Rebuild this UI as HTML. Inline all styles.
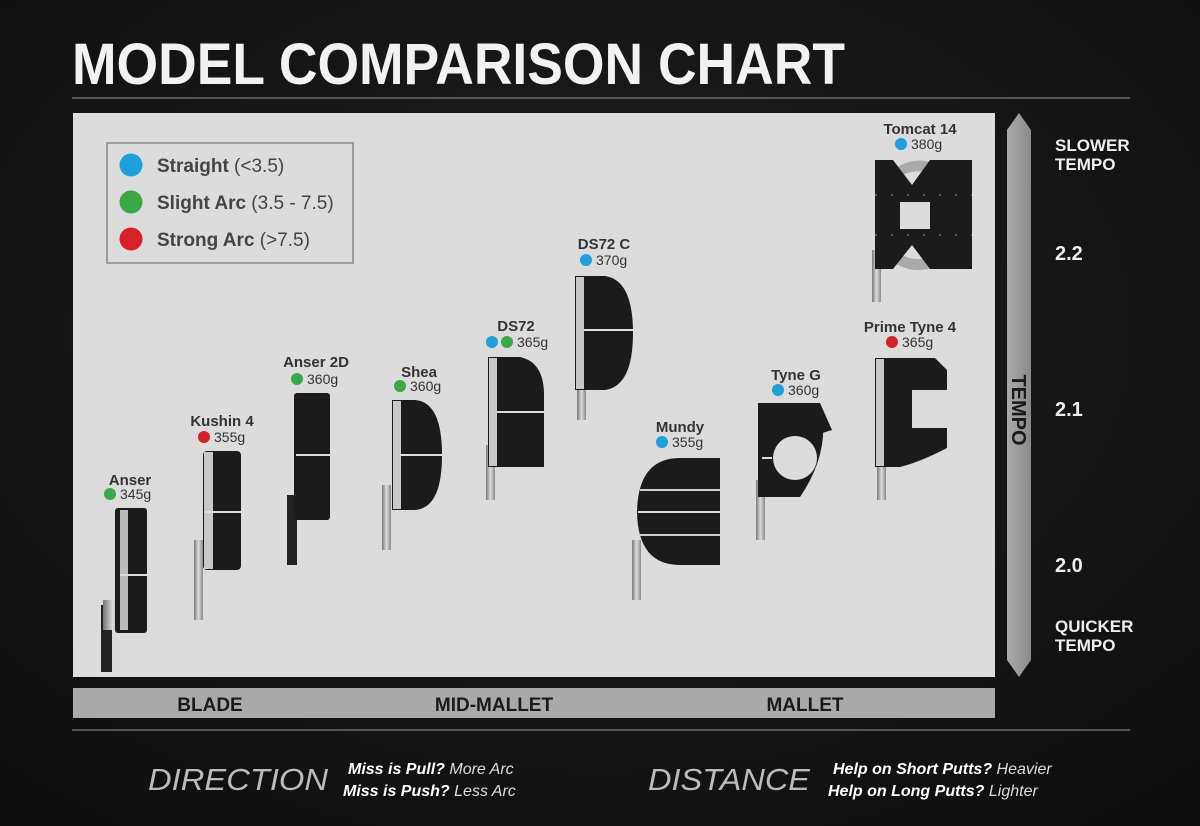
<!DOCTYPE html>
<html><head><style>
html,body{margin:0;padding:0;background:#151515;}
svg{display:block}
text{font-family:"Liberation Sans",sans-serif;}
</style></head><body>
<svg width="1200" height="826" viewBox="0 0 1200 826" xmlns="http://www.w3.org/2000/svg">
<defs>
<radialGradient id="bg" cx="50%" cy="40%" r="75%"><stop offset="0" stop-color="#1e1e1e"/><stop offset="1" stop-color="#0e0e0e"/></radialGradient>
<linearGradient id="shaft" x1="0" x2="1"><stop offset="0" stop-color="#777"/><stop offset="0.5" stop-color="#ddd"/><stop offset="1" stop-color="#888"/></linearGradient>
<linearGradient id="bar" x1="0" x2="1"><stop offset="0" stop-color="#aaa"/><stop offset="1" stop-color="#8a8a8a"/></linearGradient>
</defs>
<rect width="1200" height="826" fill="url(#bg)"/>
<text x="72" y="84" font-size="58" font-weight="bold" fill="#f2f2f2" textLength="773" lengthAdjust="spacingAndGlyphs">MODEL COMPARISON CHART</text>
<line x1="72" y1="98" x2="1130" y2="98" stroke="#555" stroke-width="2"/>
<rect x="73" y="113" width="922" height="564" fill="#dcdcdc"/>
<!-- legend -->
<rect x="107" y="143" width="246" height="120" fill="none" stroke="#888" stroke-width="1.5"/>
<circle cx="131" cy="165" r="11.5" fill="#1ea0dc"/>
<circle cx="131" cy="202" r="11.5" fill="#3aa845"/>
<circle cx="131" cy="239" r="11.5" fill="#d8202a"/>
<g font-size="19" fill="#444"><text x="157" y="172"><tspan font-weight="bold">Straight</tspan> (&lt;3.5)</text>
<text x="157" y="209"><tspan font-weight="bold">Slight Arc</tspan> (3.5 - 7.5)</text>
<text x="157" y="246"><tspan font-weight="bold">Strong Arc</tspan> (&gt;7.5)</text></g>
<!-- tempo arrow -->
<polygon points="1019,113 1031,130 1031,660 1019,677 1007,660 1007,130" fill="url(#bar)"/>
<text transform="translate(1012,410) rotate(90)" font-size="20" font-weight="bold" fill="#1a1a1a" text-anchor="middle">TEMPO</text>
<g fill="#eee" font-weight="bold" font-size="17">
<text x="1055" y="151">SLOWER</text><text x="1055" y="170">TEMPO</text>
<text x="1055" y="260" font-size="20">2.2</text>
<text x="1055" y="416" font-size="20">2.1</text>
<text x="1055" y="572" font-size="20">2.0</text>
<text x="1055" y="632">QUICKER</text><text x="1055" y="651">TEMPO</text></g>
<!-- bottom bar -->
<rect x="73" y="688" width="922" height="30" fill="#a9a9a9"/>
<g font-size="19" font-weight="bold" fill="#1a1a1a" text-anchor="middle">
<text x="210" y="711">BLADE</text><text x="494" y="711">MID-MALLET</text><text x="805" y="711">MALLET</text></g>
<line x1="72" y1="730" x2="1130" y2="730" stroke="#555" stroke-width="2"/>
<g font-style="italic" fill="#bbb">
<text x="148" y="790" font-size="31" textLength="180" lengthAdjust="spacingAndGlyphs">DIRECTION</text>
<text x="648" y="790" font-size="31" textLength="162" lengthAdjust="spacingAndGlyphs">DISTANCE</text></g>
<g font-style="italic" font-size="16" fill="#ddd">
<text x="348" y="774"><tspan font-weight="bold" fill="#fff">Miss is Pull?</tspan> More Arc</text>
<text x="343" y="796"><tspan font-weight="bold" fill="#fff">Miss is Push?</tspan> Less Arc</text>
<text x="833" y="774"><tspan font-weight="bold" fill="#fff">Help on Short Putts?</tspan> Heavier</text>
<text x="828" y="796"><tspan font-weight="bold" fill="#fff">Help on Long Putts?</tspan> Lighter</text></g>
<!-- putters -->
<g font-size="15">
<!-- Anser -->
<rect x="101" y="605" width="11" height="67" fill="#222"/>
<rect x="103" y="600" width="20" height="30" fill="url(#shaft)"/>
<rect x="115" y="508" width="32" height="125" rx="3" fill="#1b1b1b"/>
<rect x="120" y="510" width="8" height="120" fill="#bbb"/>
<line x1="120" y1="575" x2="147" y2="575" stroke="#ddd" stroke-width="2"/>
<text x="130" y="485" font-weight="bold" fill="#333" text-anchor="middle">Anser</text>
<circle cx="110" cy="494" r="6" fill="#3aa845"/><text x="120" y="499" fill="#333" font-size="14">345g</text>
<!-- Kushin -->
<rect x="194" y="540" width="9" height="80" fill="url(#shaft)"/>
<rect x="203" y="451" width="38" height="119" rx="4" fill="#1b1b1b"/>
<rect x="204" y="452" width="9" height="117" fill="#c8c8c8"/>
<line x1="205" y1="512" x2="241" y2="512" stroke="#ddd" stroke-width="2"/>
<text x="222" y="426" font-weight="bold" fill="#333" text-anchor="middle">Kushin 4</text>
<circle cx="204" cy="437" r="6" fill="#d8202a"/><text x="214" y="442" fill="#333" font-size="14">355g</text>
<!-- Anser 2D -->
<rect x="287" y="495" width="10" height="70" fill="#222"/>
<rect x="294" y="393" width="36" height="127" rx="3" fill="#1b1b1b"/>
<line x1="296" y1="455" x2="330" y2="455" stroke="#ddd" stroke-width="2"/>
<text x="316" y="367" font-weight="bold" fill="#333" text-anchor="middle">Anser 2D</text>
<circle cx="297" cy="379" r="6" fill="#3aa845"/><text x="307" y="384" fill="#333" font-size="14">360g</text>
<!-- Shea -->
<rect x="382" y="485" width="9" height="65" fill="url(#shaft)"/>
<path d="M392,400 L415,400 Q442,402 442,455 Q442,508 415,510 L392,510 Z" fill="#1b1b1b"/>
<rect x="393" y="401" width="8" height="108" fill="#c8c8c8"/>
<line x1="400" y1="455" x2="442" y2="455" stroke="#ddd" stroke-width="2"/>
<text x="419" y="377" font-weight="bold" fill="#333" text-anchor="middle">Shea</text>
<circle cx="400" cy="386" r="6" fill="#3aa845"/><text x="410" y="391" fill="#333" font-size="14">360g</text>
<!-- DS72 -->
<rect x="486" y="445" width="9" height="55" fill="url(#shaft)"/>
<path d="M488,357 L520,357 Q544,362 544,395 L544,467 L488,467 Z" fill="#1b1b1b"/>
<rect x="489" y="358" width="8" height="108" fill="#c8c8c8"/>
<line x1="497" y1="412" x2="544" y2="412" stroke="#ddd" stroke-width="2"/>
<text x="516" y="331" font-weight="bold" fill="#333" text-anchor="middle">DS72</text>
<circle cx="492" cy="342" r="6" fill="#1ea0dc"/><circle cx="507" cy="342" r="6" fill="#3aa845"/><text x="517" y="347" fill="#333" font-size="14">365g</text>
<!-- DS72 C -->
<rect x="577" y="380" width="9" height="40" fill="url(#shaft)"/>
<path d="M575,276 L605,276 Q633,280 633,333 Q633,386 605,390 L575,390 Z" fill="#1b1b1b"/>
<rect x="576" y="277" width="8" height="112" fill="#c8c8c8"/>
<line x1="584" y1="330" x2="633" y2="330" stroke="#ddd" stroke-width="2"/>
<text x="604" y="249" font-weight="bold" fill="#333" text-anchor="middle">DS72 C</text>
<circle cx="586" cy="260" r="6" fill="#1ea0dc"/><text x="596" y="265" fill="#333" font-size="14">370g</text>
<!-- Mundy -->
<rect x="632" y="540" width="9" height="60" fill="url(#shaft)"/>
<path d="M680,458 L720,458 L720,565 L680,565 Q638,565 637,512 Q638,458 680,458 Z" fill="#1b1b1b"/>
<line x1="640" y1="490" x2="720" y2="490" stroke="#ccc" stroke-width="2"/>
<line x1="638" y1="512" x2="720" y2="512" stroke="#ddd" stroke-width="2"/>
<line x1="640" y1="535" x2="720" y2="535" stroke="#ccc" stroke-width="2"/>
<text x="680" y="432" font-weight="bold" fill="#333" text-anchor="middle">Mundy</text>
<circle cx="662" cy="442" r="6" fill="#1ea0dc"/><text x="672" y="447" fill="#333" font-size="14">355g</text>
<!-- Tyne G -->
<rect x="756" y="480" width="9" height="60" fill="url(#shaft)"/>
<path d="M758,403 L820,403 L832,430 L800,440 L800,497 L758,497 Z" fill="#1b1b1b"/>
<path d="M758,403 L820,403 Q832,450 800,497 L758,497 Z" fill="#1b1b1b"/>
<circle cx="795" cy="458" r="22" fill="#dcdcdc"/>
<line x1="762" y1="458" x2="772" y2="458" stroke="#ddd" stroke-width="2"/>
<text x="796" y="380" font-weight="bold" fill="#333" text-anchor="middle">Tyne G</text>
<circle cx="778" cy="390" r="6" fill="#1ea0dc"/><text x="788" y="395" fill="#333" font-size="14">360g</text>
<!-- Prime Tyne 4 -->
<rect x="877" y="440" width="9" height="60" fill="url(#shaft)"/>
<path d="M875,358 L935,358 L947,370 L947,390 L912,390 L912,428 L947,428 L947,448 Q920,462 900,467 L875,467 Z" fill="#1b1b1b"/>
<rect x="876" y="359" width="8" height="107" fill="#c8c8c8"/>
<text x="910" y="332" font-weight="bold" fill="#333" text-anchor="middle">Prime Tyne 4</text>
<circle cx="892" cy="342" r="6" fill="#d8202a"/><text x="902" y="347" fill="#333" font-size="14">365g</text>
<!-- Tomcat -->
<rect x="872" y="250" width="9" height="52" fill="url(#shaft)"/>
<path d="M893,170 Q920,150 950,172 L946,182 Q920,163 897,178 Z" fill="#aaa"/>
<path d="M893,262 Q920,280 950,258 L946,248 Q920,268 897,252 Z" fill="#aaa"/>
<path d="M875,160 L893,160 L912,185 L930,160 L972,160 L972,195 L972,235 L972,269 L930,269 L912,245 L893,269 L875,269 Z" fill="#1b1b1b"/>
<rect x="900" y="202" width="30" height="27" fill="#dcdcdc"/>
<line x1="875" y1="195" x2="972" y2="195" stroke="#555" stroke-width="2" stroke-dasharray="2,14"/>
<line x1="875" y1="235" x2="972" y2="235" stroke="#555" stroke-width="2" stroke-dasharray="2,14"/>
<text x="920" y="134" font-weight="bold" fill="#333" text-anchor="middle">Tomcat 14</text>
<circle cx="901" cy="144" r="6" fill="#1ea0dc"/><text x="911" y="149" fill="#333" font-size="14">380g</text>
</g>
</svg>
</body></html>
